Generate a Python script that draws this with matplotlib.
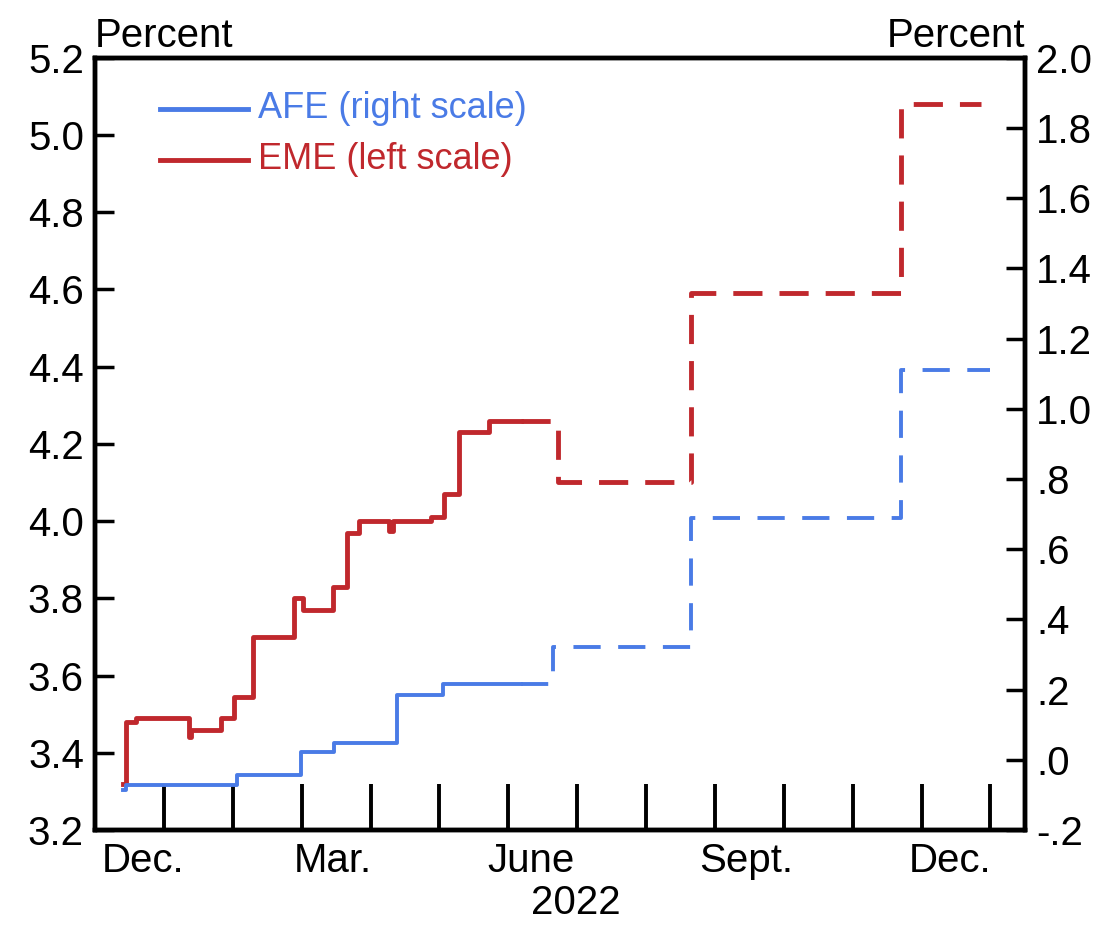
import matplotlib
matplotlib.use("Agg")
import matplotlib.pyplot as plt

plt.rcParams['font.family'] = ['Liberation Sans', 'DejaVu Sans']

# x in months since Dec 1, 2021
eme_x = [0.41,0.45,0.6,1.36,1.39,1.83,2.02,2.29,2.89,3.02,3.45,3.66,3.83,4.27,4.33,4.88,5.07,5.28,5.72,6.18]
eme_y = [3.32,3.48,3.49,3.44,3.46,3.49,3.545,3.70,3.80,3.77,3.83,3.97,4.00,3.975,4.00,4.01,4.07,4.23,4.26,4.26]
eme_fx = [6.18,6.72,8.65,11.7,12.86]
eme_fy = [4.26,4.10,4.59,5.08,5.08]

afe_x = [0.41,0.45,2.06,2.99,3.47,4.38,5.05,6.18]
afe_y = [-0.085,-0.072,-0.043,0.022,0.048,0.185,0.216,0.216]
afe_fx = [6.18,6.65,8.65,11.7,13.0]
afe_fy = [0.216,0.32,0.69,1.11,1.11]

lab_pos = [0.7,3.45,6.33,9.45,12.42]
lab_txt = ['Dec.','Mar.','June','Sept.','Dec.']
left_ticks = [3.2,3.4,3.6,3.8,4.0,4.2,4.4,4.6,4.8,5.0,5.2]
right_ticks = [-0.2,0.0,0.2,0.4,0.6,0.8,1.0,1.2,1.4,1.6,1.8,2.0]
right_lab = ['-.2','.0','.2','.4','.6','.8','1.0','1.2','1.4','1.6','1.8','2.0']

red = '#c0282d'; blue = '#4a7be6'
fig = plt.figure(figsize=(11.11,9.26), dpi=100)
ax = fig.add_axes([0.0855,0.1037,0.837,0.834])
ax2 = ax.twinx()
ax.plot(eme_x, eme_y, drawstyle='steps-post', color=red, lw=3.5)
ax.plot(eme_fx, eme_fy, drawstyle='steps-post', color=red, lw=3.5, dashes=(6,3.5))
ax2.plot(afe_x, afe_y, drawstyle='steps-post', color=blue, lw=2.8)
ax2.plot(afe_fx, afe_fy, drawstyle='steps-post', color=blue, lw=2.8, dashes=(7,4.5))
ax.set_xlim(0,13.5)
ax.set_ylim(3.2,5.2)
ax2.set_ylim(-0.2,2.0)
ax.set_yticks(left_ticks)
ax.set_yticklabels([f'{v:.1f}' for v in left_ticks])
ax2.set_yticks(right_ticks)
ax2.set_yticklabels(right_lab)
ax.set_xticks(range(1,14))
ax.set_xticklabels([])
ax.tick_params(axis='x', direction='in', length=33, width=2.8)
ax.tick_params(axis='y', direction='in', length=14, width=2.5, labelsize=29, pad=8)
ax2.tick_params(axis='y', direction='in', length=14, width=2.5, labelsize=29, pad=8)
for a in (ax, ax2):
    for s in a.spines.values():
        s.set_linewidth(3.2)
for p, t in zip(lab_pos, lab_txt):
    ax.text(p, -0.015, t, transform=ax.get_xaxis_transform(), ha='center', va='top', fontsize=29)
ax.text(6.98, -0.07, '2022', transform=ax.get_xaxis_transform(), ha='center', va='top', fontsize=29)
ax.text(0.0, 1.003, 'Percent', transform=ax.transAxes, ha='left', va='bottom', fontsize=29)
ax.text(1.0, 1.003, 'Percent', transform=ax.transAxes, ha='right', va='bottom', fontsize=29)
ax.plot([0.07,0.165],[0.934,0.934], transform=ax.transAxes, color=blue, lw=3.5)
ax.text(0.175,0.934,'AFE (right scale)', transform=ax.transAxes, color=blue, fontsize=26, va='center')
ax.plot([0.07,0.165],[0.868,0.868], transform=ax.transAxes, color=red, lw=3.5)
ax.text(0.175,0.868,'EME (left scale)', transform=ax.transAxes, color=red, fontsize=26, va='center')
fig.savefig('out.png', dpi=100)
